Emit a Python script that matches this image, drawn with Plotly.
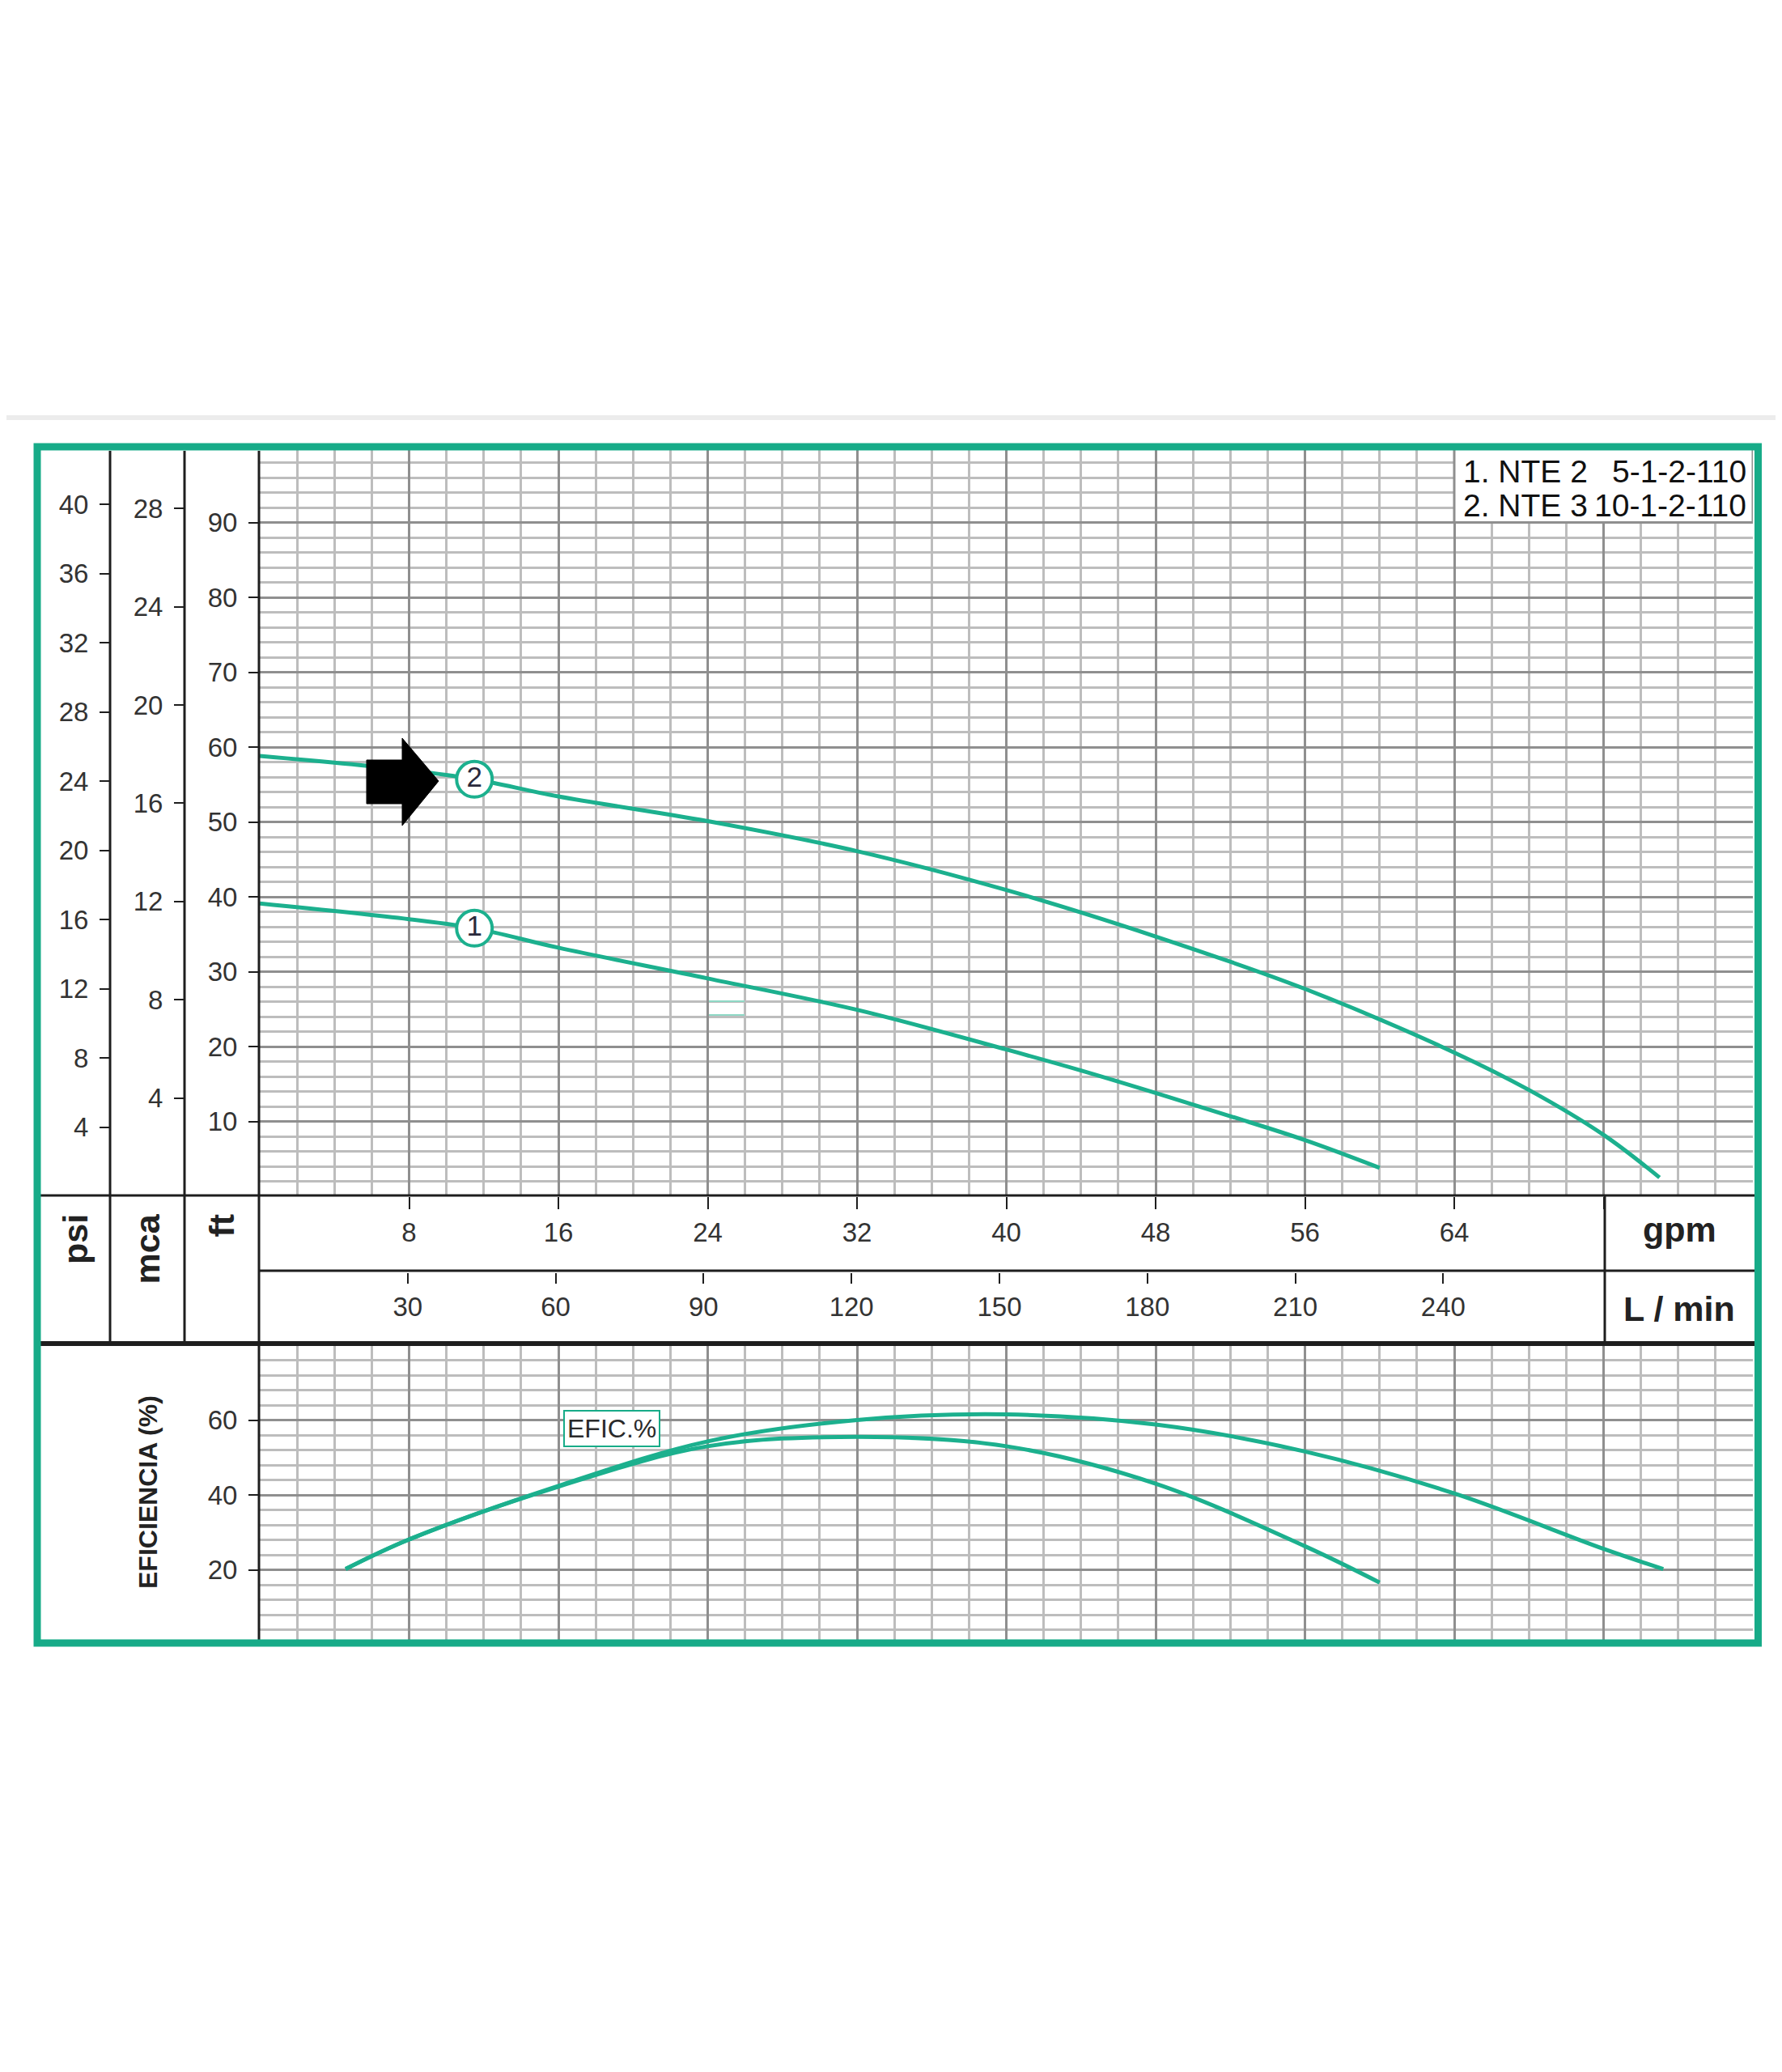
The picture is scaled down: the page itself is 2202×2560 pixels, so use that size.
import plotly.graph_objects as go

# ---- data --------------------------------------------------------------
# head curves (gpm -> ft)
H1_GPM = [0, 8, 11.5, 16, 24, 32, 40, 44, 48, 52, 56, 60]
H1_FT = [39.1, 37.0, 35.8, 33.2, 29.1, 24.9, 19.6, 16.8, 13.8, 10.7, 7.5, 3.8]
H2_GPM = [0, 8, 11.5, 16, 24, 32, 40, 48, 56, 64, 68, 72, 75]
H2_FT = [58.8, 56.9, 55.7, 53.4, 50.1, 46.1, 40.9, 34.7, 27.7, 19.2, 14.2, 8.2, 2.5]

# efficiency curves (gpm -> %)
E1_GPM = [4.6, 8, 16, 24, 32, 40, 48, 56, 60]
E1_PCT = [20.2, 28.1, 42.2, 53.0, 55.5, 53.0, 43.0, 26.3, 16.6]
E2_GPM = [4.6, 8, 16, 24, 32, 40, 48, 56, 64, 72, 75.2]
E2_PCT = [20.2, 28.1, 42.4, 54.3, 60.0, 61.5, 58.8, 51.6, 40.4, 25.6, 20.2]

# curve number tags
TAG_GPM = [11.5, 11.5]
TAG_FT = [35.8, 55.7]
TAG_TEXT = ["1", "2"]

GPM_TICKS = [8, 16, 24, 32, 40, 48, 56, 64, 72]
GPM_LABELS = ["8", "16", "24", "32", "40", "48", "56", "64", ""]
LMIN_TICKS = [30, 60, 90, 120, 150, 180, 210, 240]
FT_TICKS = [10, 20, 30, 40, 50, 60, 70, 80, 90]
PSI_TICKS = [4, 8, 12, 16, 20, 24, 28, 32, 36, 40]
MCA_TICKS = [4, 8, 12, 16, 20, 24, 28]
EFF_TICKS = [20, 40, 60]

MODELS = [("1. NTE 2", "5-1-2-110"), ("2. NTE 3", "10-1-2-110")]

# ---- geometry helpers (page pixels -> paper) ---------------------------
W, H, OFF = 2186, 2544, 8


def px(x):
    return (x - OFF) / W


def py(y):
    return 1 - (y - OFF) / H


TEAL = "#17ab88"
CURVE = "#1cb08e"
INK = "#1e1e1e"
TXT = "#333333"
MAJ = "#8f8f8f"
MIN = "#bdbdbd"
FONT = "Liberation Sans, Arial, sans-serif"

fig = go.Figure()

for gx, gy in [(H1_GPM, H1_FT), (H2_GPM, H2_FT)]:
    fig.add_trace(go.Scatter(x=gx, y=gy, mode="lines", line=dict(color=CURVE, width=5, shape="spline"),
                             xaxis="x", yaxis="y", hoverinfo="skip"))
for gx, gy in [(E1_GPM, E1_PCT), (E2_GPM, E2_PCT)]:
    fig.add_trace(go.Scatter(x=gx, y=gy, mode="lines", line=dict(color=CURVE, width=5, shape="spline"),
                             xaxis="x3", yaxis="y3", hoverinfo="skip"))

fig.add_trace(go.Scatter(
    x=TAG_GPM, y=TAG_FT, text=TAG_TEXT, mode="markers+text", textposition="middle center",
    marker=dict(size=44, color="white", line=dict(color=CURVE, width=4)),
    textfont=dict(size=35, color="#2a2a3c", family=FONT), xaxis="x", yaxis="y", hoverinfo="skip"))

# invisible anchors so the overlay scales are drawn
for xa, ya in [("x2", "y"), ("x", "y2"), ("x", "y4")]:
    fig.add_trace(go.Scatter(x=[0], y=[0], mode="markers", marker=dict(opacity=0),
                             xaxis=xa, yaxis=ya, hoverinfo="skip"))

tickfont = dict(family=FONT, size=33, color=TXT)
xdom = [px(321), px(2166)]
head_dom = [py(1478), py(553)]
eff_dom = [py(2032), py(1662)]

common_y = dict(ticks="outside", ticklen=13, tickwidth=2, tickcolor=INK, showline=False,
                zeroline=False, tickfont=tickfont, ticklabelstandoff=7, fixedrange=True)

fig.update_layout(
    width=W, height=H, margin=dict(l=0, r=0, t=0, b=0),
    paper_bgcolor="white", plot_bgcolor="white", showlegend=False,
    xaxis=dict(domain=xdom, range=[0, 80], anchor="y", tickmode="array", tickvals=GPM_TICKS,
               ticktext=GPM_LABELS, ticks="outside", ticklen=15, tickwidth=2, tickcolor=INK,
               showline=False, zeroline=False, tickfont=tickfont, ticklabelstandoff=0,
               showgrid=True, gridcolor=MAJ, gridwidth=3,
               minor=dict(tickmode="linear", tick0=0, dtick=2, showgrid=True, gridcolor=MIN, gridwidth=3)),
    xaxis2=dict(overlaying="x", anchor="free", position=py(1572), side="bottom", range=[0, 80 * 3.785],
                tickmode="array", tickvals=LMIN_TICKS, ticks="outside", ticklen=13, tickwidth=2,
                tickcolor=INK, showline=False, zeroline=False, showgrid=False, tickfont=tickfont,
                ticklabelstandoff=0),
    yaxis=dict(domain=head_dom, range=[0, 100], anchor="x", tickmode="array", tickvals=FT_TICKS,
               showgrid=True, gridcolor=MAJ, gridwidth=3,
               minor=dict(tickmode="linear", tick0=0, dtick=2, showgrid=True, gridcolor=MIN, gridwidth=3),
               **common_y),
    yaxis2=dict(overlaying="y", anchor="free", position=px(136), side="left", range=[0, 100 / 2.31],
                tickmode="array", tickvals=PSI_TICKS, showgrid=False, **common_y),
    yaxis4=dict(overlaying="y", anchor="free", position=px(228), side="left", range=[0, 100 / 3.281],
                tickmode="array", tickvals=MCA_TICKS, showgrid=False, **common_y),
    xaxis3=dict(domain=xdom, range=[0, 80], anchor="y3", tickmode="array", tickvals=GPM_TICKS,
                showticklabels=False, ticks="", showline=False, zeroline=False,
                showgrid=True, gridcolor=MAJ, gridwidth=3,
                minor=dict(tickmode="linear", tick0=0, dtick=2, showgrid=True, gridcolor=MIN, gridwidth=3)),
    yaxis3=dict(domain=eff_dom, range=[0, 80], anchor="x3", tickmode="array", tickvals=EFF_TICKS,
                showgrid=True, gridcolor=MAJ, gridwidth=3,
                minor=dict(tickmode="linear", tick0=0, dtick=4, showgrid=True, gridcolor=MIN, gridwidth=3),
                **common_y),
)


def hline(y, x0, x1, width=3, color=INK):
    return dict(type="line", xref="paper", yref="paper", x0=px(x0), x1=px(x1), y0=py(y), y1=py(y),
                line=dict(color=color, width=width))


def vline(x, y0, y1, width=3, color=INK):
    return dict(type="line", xref="paper", yref="paper", x0=px(x), x1=px(x), y0=py(y0), y1=py(y1),
                line=dict(color=color, width=width))


arrow_pts = [(453, 939), (497, 939), (497, 912), (542, 965), (497, 1020), (497, 993), (453, 993)]
arrow_path = "M " + " L ".join(f"{px(a):.5f},{py(b):.5f}" for a, b in arrow_pts) + " Z"

shapes = [
    hline(516, 7, 2195, width=6, color="#ececec"),
    vline(136, 557, 1659), vline(228, 557, 1659), vline(320, 557, 2030), vline(1983, 1477, 1659),
    hline(1477, 50, 2168), hline(1570, 320, 2168), hline(1660, 50, 2168, width=6),
    dict(type="rect", xref="x", yref="y", x0=64, x1=80, y0=90, y1=100, fillcolor="white",
         line=dict(color=MAJ, width=3)),
    hline(1237, 876, 920, width=2, color="#8fd9c6"), hline(1254, 876, 920, width=2, color="#8fd9c6"),
    dict(type="rect", xref="paper", yref="paper", x0=px(46), x1=px(2172.5), y0=py(2030), y1=py(552),
         line=dict(color=TEAL, width=9)),
    dict(type="path", xref="paper", yref="paper", path=arrow_path, fillcolor="black",
         line=dict(color="black", width=1)),
]
fig.update_layout(shapes=shapes)

bold = dict(family=FONT, size=43, color="#222222", weight="bold")
ann = [
    dict(text="psi", x=px(93), y=py(1498), textangle=-90, xanchor="center", yanchor="top", font=bold),
    dict(text="mca", x=px(182), y=py(1498), textangle=-90, xanchor="center", yanchor="top", font=bold),
    dict(text="ft", x=px(274), y=py(1498), textangle=-90, xanchor="center", yanchor="top", font=bold),
    dict(text="gpm", x=px(2075), y=py(1519), xanchor="center", yanchor="middle", font=bold),
    dict(text="L / min", x=px(2075), y=py(1617), xanchor="center", yanchor="middle", font=bold),
    dict(text="EFICIENCIA (%)", x=px(183), y=py(1844), textangle=-90, xanchor="center",
         yanchor="middle", font=dict(family=FONT, size=32, color="#222222", weight="bold")),
    dict(text="EFIC.%", x=px(756), y=py(1765), xanchor="center", yanchor="middle",
         bgcolor="white", bordercolor=TEAL, borderwidth=2, borderpad=3,
         font=dict(family="Liberation Sans Narrow, " + FONT, size=32, color="#2a2a2a")),
]
for i, (left, right) in enumerate(MODELS):
    yy = py(582 + 42 * i)
    ann.append(dict(text=left, x=px(1806), y=yy, xanchor="left", yanchor="middle",
                    font=dict(family=FONT, size=39, color="#111111")))
    ann.append(dict(text=right, x=px(2160), y=yy, xanchor="right", yanchor="middle",
                    font=dict(family=FONT, size=39, color="#111111")))
for a in ann:
    a.update(xref="paper", yref="paper", showarrow=False)
fig.update_layout(annotations=ann)

fig.write_html("out.html")
